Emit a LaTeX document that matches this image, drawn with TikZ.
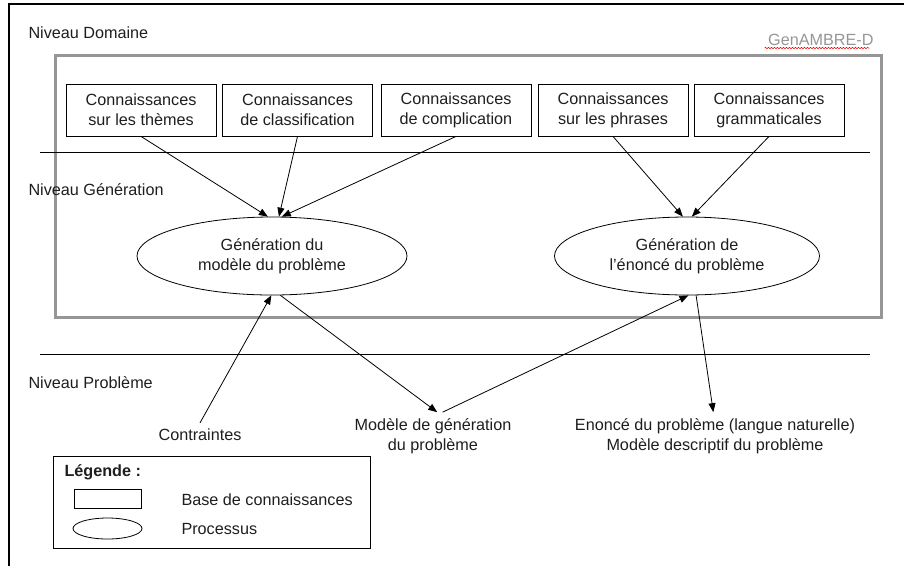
\documentclass[tikz,border=0pt]{standalone}
\usepackage{fontspec}
\setmainfont{Liberation Sans}
\usepackage{tikz}
\usetikzlibrary{shapes.geometric, positioning, arrows.meta}
\usetikzlibrary{decorations.pathmorphing}
\definecolor{cadre}{RGB}{150,150,150}
\definecolor{texte}{RGB}{30,30,30}

\begin{document}
\begin{tikzpicture}[x=1pt,y=-1pt,
        font=\fontsize{16.2}{20}\selectfont, text=texte,
        base/.style={draw,thick,minimum width=150pt,minimum height=52pt,align=center,inner sep=0pt},
        proc/.style={draw,thick,ellipse,minimum height=78pt,align=center,inner sep=0pt},
        niveau/.style={anchor=west},
        sortie/.style={align=center,inner sep=6pt},
        fl/.style={-{Triangle[length=9pt,width=7pt]},line width=0.8pt}]
    \useasboundingbox (0,0) rectangle (904,566);
    % cadre exterieur
    \draw[line width=2.5pt] (9,566) -- (9,4) -- (904,4);
    \draw[cadre,line width=3pt] (55,55) rectangle (881,317);
    \node[anchor=base east,text=cadre] (gen) at (877,45) {GenAMBRE-D};
    \draw[red,line width=0.5pt,decorate,decoration={snake,amplitude=0.8pt,segment length=3pt}]
        (gen.base west) ++(0,3) -- ++(105,0);
    % niveaux
    \node[niveau] (nd) at (25,33) {Niveau Domaine};
    \node[niveau] (ng) at (25,190) {Niveau Génération};
    \node[niveau] (np) at (25,383) {Niveau Problème};
    \draw[line width=0.8pt] (40,152) -- (870,152);
    \draw[line width=0.8pt] (40,354) -- (870,354);
    % bases de connaissances
    \node[base] (b1) at (141,110) {Connaissances\\sur les thèmes};
    \node[base] (b2) at (297.5,110) {Connaissances\\de classification};
    \node[base] (b3) at (456,110) {Connaissances\\de complication};
    \node[base] (b4) at (613,110) {Connaissances\\sur les phrases};
    \node[base] (b5) at (769,110) {Connaissances\\grammaticales};
    % processus
    \node[proc,minimum width=270pt] (e1) at (272,256) {Génération du\\modèle du problème};
    \node[proc,minimum width=265pt] (e2) at (687,256) {Génération de\\l’énoncé du problème};
    % niveau probleme
    \node[sortie] (cont) at (200,435) {Contraintes};
    \node[sortie] (mod) at (433,436) {Modèle de génération\\du problème};
    \node[sortie] (en) at (715,436) {Enoncé du problème (langue naturelle)\\Modèle descriptif du problème};
    \path[fl]
        (b1.south) edge (e1.96)
        (b2.south) edge (e1.80)
        (b3.south) edge (e1.76)
        (b4.south) edge (e2.96)
        (b5.south) edge (e2.83)
        (cont.north) edge (e1.269)
        (e1.282) edge (mod.80)
        (mod.68) edge (e2.272)
        (e2.283) edge (en.94);
    % legende
    \draw[line width=0.8pt] (53,456) rectangle (370,548);
    \node[anchor=west,font=\fontsize{16.2}{20}\selectfont\bfseries] (leg) at (61,472) {Légende :};
    \node[draw,thick,minimum width=67pt,minimum height=19pt,inner sep=0pt] (lb) at (107.5,498.5) {};
    \node[draw,thick,ellipse,minimum width=69pt,minimum height=21pt,inner sep=0pt] (lp) at (107.5,528.5) {};
    \node[anchor=west] (tb) at (178,500) {Base de connaissances};
    \node[anchor=west] (tp) at (178,529) {Processus};
\end{tikzpicture}
\end{document}
